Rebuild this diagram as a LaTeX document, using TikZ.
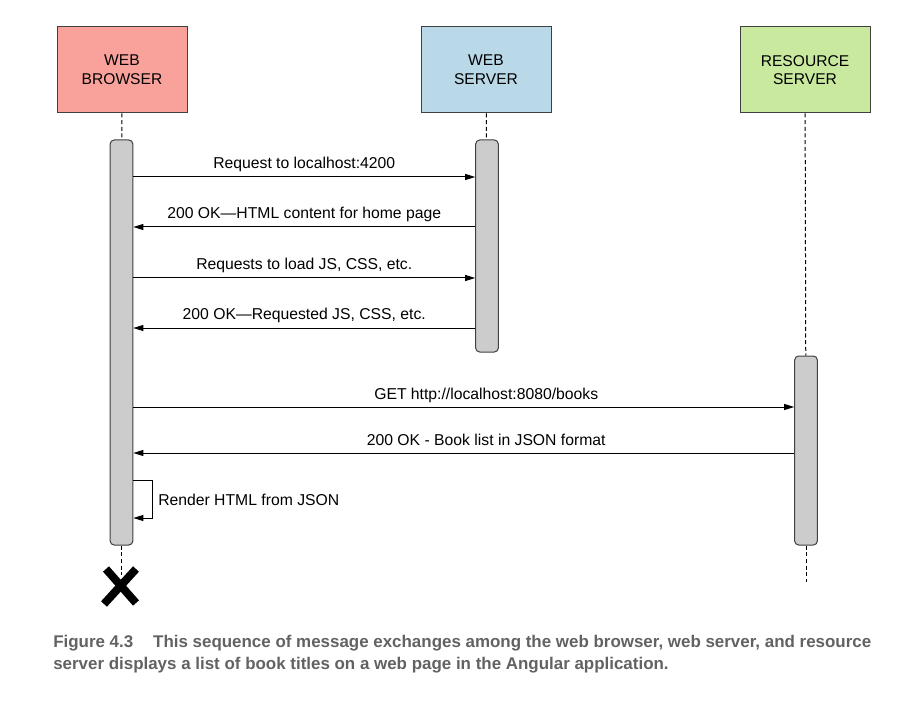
\documentclass[tikz,border=0pt]{standalone}
\usepackage{fontspec}
\setmainfont{Liberation Sans}
\newfontfamily\capfont{Liberation Sans}
\usetikzlibrary{arrows.meta}

\definecolor{browserred}{HTML}{F9A19B}
\definecolor{serverblue}{HTML}{B9D9E9}
\definecolor{resgreen}{HTML}{C8E99E}
\definecolor{actgray}{HTML}{CCCCCC}
\definecolor{capgray}{HTML}{626262}

\tikzset{
  actor/.style={draw=black!75, line width=0.75pt, minimum width=97.5pt,
    minimum height=64.5pt, align=center, font=\fontsize{11.7pt}{14pt}\selectfont},
  activation/.style={draw=black!75, fill=actgray, line width=0.75pt,
    rounded corners=3pt, minimum width=17pt, inner sep=0pt},
  lifeline/.style={dashed, line width=0.75pt, dash pattern=on 3pt off 2pt},
  msg/.style={line width=0.75pt, -{Triangle[length=7.5pt,width=4.5pt]}},
  label/.style={font=\fontsize{11.8pt}{14pt}\selectfont, inner sep=0pt},
  kill/.style={line width=6pt}
}

\begin{document}
\begin{tikzpicture}[x=0.75pt, y=-0.75pt]
  \useasboundingbox (0,0) rectangle (909,716);

  % participants
  \node[actor, fill=browserred] (browser) at (122,70) {WEB\\BROWSER};
  \node[actor, fill=serverblue] (server) at (486,70) {WEB\\SERVER};
  \node[actor, fill=resgreen] (resource) at (805,70) {RESOURCE\\SERVER};

  % activation bars
  \node[activation, minimum height=303.75pt] (bact) at (121.5,342.5) {};
  \node[activation, minimum height=159pt] (sact) at (487,246) {};
  \node[activation, minimum height=141.75pt] (ract) at (806,450.5) {};

  \coordinate (stop) at (120,586);
  \coordinate (rend) at (806,582);

  % lifelines
  \draw[lifeline] (browser) -- (bact);
  \draw[lifeline] (server) -- (sact);
  \draw[lifeline] (resource) -- (ract);
  \draw[lifeline] (bact) -- (bact.south |- 0,575);
  \draw[lifeline] (ract) -- (rend);

  % messages
  \draw[msg] (bact.east |- 0,177) -- (sact.west |- 0,177)
    node[label, midway, anchor=base, yshift=6pt] (m1) {Request to localhost:4200};
  \draw[msg] (sact.west |- 0,227) -- (bact.east |- 0,227)
    node[label, midway, anchor=base, yshift=6pt] (m2) {200 OK—HTML content for home page};
  \draw[msg] (bact.east |- 0,278) -- (sact.west |- 0,278)
    node[label, midway, anchor=base, yshift=6pt] (m3) {Requests to load JS, CSS, etc.};
  \draw[msg] (sact.west |- 0,328) -- (bact.east |- 0,328)
    node[label, midway, anchor=base, yshift=6pt] (m4) {200 OK—Requested JS, CSS, etc.};
  \draw[msg] (bact.east |- 0,407) -- (ract.west |- 0,407)
    node[label, pos=0.534, anchor=base, yshift=6pt] (m5) {GET http://localhost:8080/books};
  \draw[msg] (ract.west |- 0,453) -- (bact.east |- 0,453)
    node[label, pos=0.466, anchor=base, yshift=6pt] (m6) {200 OK - Book list in JSON format};

  % self call
  \draw[msg] (bact.east |- 0,480) -- (152,480) -- (152,518) -- (bact.east |- 0,518);
  \node[label, anchor=west] (m7) at (158,500) {Render HTML from JSON};

  % destruction
  \draw[kill] (stop) ++(-14,-17) -- ++(30,34);
  \draw[kill] (stop) ++(16,-17) -- ++(-32,35);

  % caption
  \node[anchor=base west, align=left, text=capgray, inner sep=0pt,
    font=\capfont\bfseries\fontsize{12.7pt}{16.5pt}\selectfont] (caption) at (53,669)
    {Figure 4.3\hspace{0.9em} This sequence of message exchanges among the web browser, web server, and resource\\
     server displays a list of book titles on a web page in the Angular application.};
\end{tikzpicture}
\end{document}
